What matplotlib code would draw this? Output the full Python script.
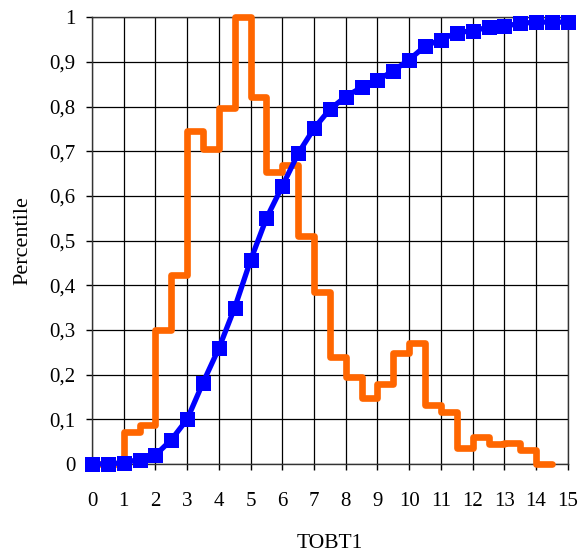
import matplotlib
matplotlib.use('Agg')
import matplotlib.pyplot as plt
from matplotlib.ticker import FuncFormatter, MultipleLocator

# cumulative percentile (blue), sampled every half unit
cum_x = [0, 0.5, 1, 1.5, 2, 2.5, 3, 3.5, 4, 4.5, 5, 5.5, 6, 6.5, 7, 7.5,
         8, 8.5, 9, 9.5, 10, 10.5, 11, 11.5, 12, 12.5, 13, 13.5, 14, 14.5, 15]
cum_y = [0.0, 0.0, 0.003, 0.01, 0.02, 0.054, 0.10, 0.182, 0.259, 0.35, 0.456,
         0.55, 0.622, 0.695, 0.751, 0.794, 0.822, 0.843, 0.859, 0.88, 0.905,
         0.935, 0.95, 0.965, 0.97, 0.977, 0.98, 0.986, 0.989, 0.989, 0.989]

# relative frequency histogram (orange), bin edges + one value per bin
bin_edges = [0, 0.5, 1, 1.5, 2, 2.5, 3, 3.5, 4, 4.5, 5, 5.5, 6, 6.5, 7, 7.5,
             8, 8.5, 9, 9.5, 10, 10.5, 11, 11.5, 12, 12.5, 13, 13.5, 14, 14.5]
freq = [0.0, 0.0, 0.072, 0.087, 0.30, 0.423, 0.745, 0.706, 0.796, 1.0,
        0.822, 0.654, 0.669, 0.51, 0.385, 0.239, 0.195, 0.148, 0.18, 0.248,
        0.27, 0.132, 0.117, 0.035, 0.06, 0.045, 0.048, 0.031, 0.0]

plt.rcParams['font.family'] = 'Liberation Serif'

fig = plt.figure(figsize=(5.8, 5.54), dpi=100)
ax = fig.add_axes([0.1586, 0.1625, 0.8204, 0.8065])

st = ax.stairs(freq, bin_edges, baseline=None, color='#FF6600', lw=4.8,
               clip_on=False, zorder=3)
st.set_joinstyle('round')
st.set_capstyle('round')
ax.plot(cum_x, cum_y, color='#0000FF', lw=3.8, marker='s', markersize=10.8,
        markeredgewidth=0, clip_on=False, zorder=4, solid_joinstyle='round')

ax.set_xlim(0, 15)
ax.set_ylim(0, 1)
ax.xaxis.set_major_locator(MultipleLocator(1))
ax.yaxis.set_major_locator(MultipleLocator(0.1))
ax.yaxis.set_major_formatter(FuncFormatter(lambda v, p: f"{round(v, 1):g}".replace('.', ',')))
ax.grid(True, color='black', lw=0.9)
ax.set_axisbelow(True)
for s in ax.spines.values():
    s.set_color('#333333')
    s.set_linewidth(1.0)
ax.tick_params(direction='out', length=4, width=1, labelsize=15, pad=8)
ax.tick_params(axis='x', pad=16)

ax.set_xlabel('TOBT1', fontsize=15.5, labelpad=17)
ax.set_ylabel('Percentile', fontsize=16, labelpad=12)

fig.savefig('out.png', dpi=100)
